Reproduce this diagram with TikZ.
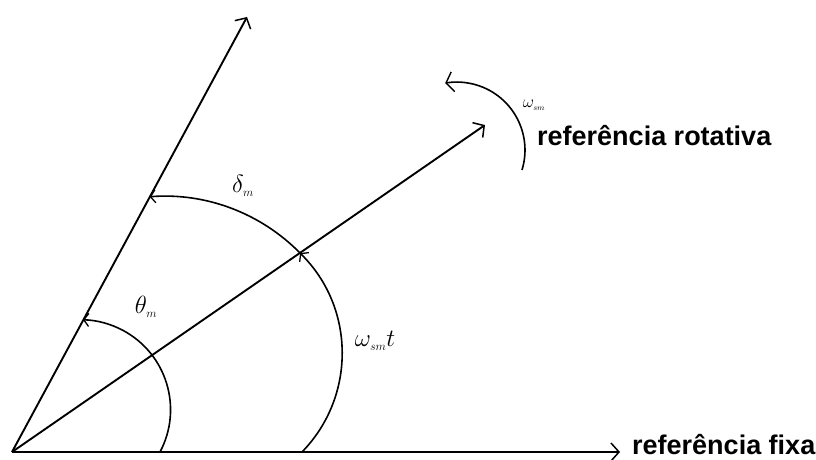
\documentclass[tikz,border=0pt]{standalone}
\usepackage{fontspec}
\setmainfont{Liberation Sans}
\usetikzlibrary{arrows.meta}
\tikzset{
    axisline/.style={
        line width=1.9pt,
        -{Straight Barb[length=8pt,width=18pt,line width=1.5pt]}
    },
    anglearc/.style={
        line width=1.6pt,
        -{Straight Barb[length=5pt,width=13pt,line width=1.3pt]}
    },
    spinarc/.style={
        line width=1.6pt,
        -{Straight Barb[length=7pt,width=20pt,line width=1.4pt]}
    },
    reflabel/.style={
        font=\fontsize{27}{30}\selectfont\bfseries,
        inner sep=0pt,
        anchor=base west
    },
    anglelabel/.style={
        font=\fontsize{25}{28}\selectfont,
        inner sep=0pt
    }
}

\begin{document}
\begin{tikzpicture}[x=1pt,y=1pt]
    \useasboundingbox (-12,-8) rectangle (804,452);
    \coordinate (O) at (0,0);
    \coordinate (fixa) at (608,0);
    \coordinate (rot) at (473,327);
    \coordinate (upper) at (235,435);
    % the three axes
    \draw[axisline] (O) -- (fixa);
    \draw[axisline] (O) -- (rot);
    \draw[axisline] (O) -- (upper);
    % angles
    \draw[anglearc] (148,0) arc[start angle=-28, end angle=88.5, radius=90];
    \draw[anglearc] (290,0) arc[start angle=-44.3, end angle=45.4, radius=141];
    \draw[anglearc] (288,199) arc[start angle=44.5, end angle=94.5, radius=190];
    \draw[spinarc] (510,282) arc[start angle=-17, end angle=100, radius=68];
    \node[anglelabel] (theta) at (134,145) {$\theta_{\scriptscriptstyle m}$};
    \node[anglelabel] (delta) at (231,266) {$\delta_{\scriptscriptstyle m}$};
    \node[anglelabel] (omegat) at (363,111) {$\omega_{\scriptscriptstyle sm}t$};
    \node[anglelabel, font=\fontsize{17}{19}\selectfont] (omega) at (522,347) {$\omega_{\scriptscriptstyle sm}$};
    \node[reflabel] (rottext) at (525,306) {referência rotativa};
    \node[reflabel] (fixatext) at (620,-3) {referência fixa};
\end{tikzpicture}
\end{document}
